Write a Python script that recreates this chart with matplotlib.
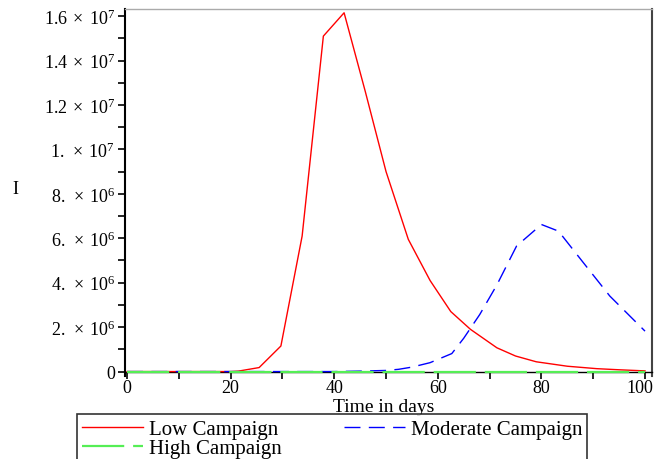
import matplotlib
matplotlib.use('Agg')
import matplotlib.pyplot as plt
from matplotlib.ticker import MultipleLocator, FixedLocator

plt.rcParams['font.family'] = ['Liberation Serif', 'DejaVu Serif']
plt.rcParams['mathtext.fontset'] = 'custom'
plt.rcParams['mathtext.rm'] = 'Liberation Serif'
plt.rcParams['mathtext.it'] = 'Liberation Serif:italic'

# infected people (values in units of 1e6)
low_days = [0, 20, 21.5, 25.5, 29.7, 33.8, 37.9, 41.9, 46, 50, 54.3, 58.5,
            62.5, 66.3, 71.4, 75, 79, 85, 90.7, 95, 100]
low_vals = [0, 0, 0.02, 0.18, 1.15, 6.1, 15.1, 16.15, 12.6, 9.0, 5.95, 4.1,
            2.7, 1.9, 1.07, 0.7, 0.44, 0.24, 0.13, 0.08, 0.03]

mod_days = [0, 40, 45, 50, 52.4, 55, 58.5, 62.7, 65, 68.1, 71.4, 75.2, 80,
            83.3, 88.1, 93.2, 100]
mod_vals = [0, 0, 0.02, 0.05, 0.1, 0.2, 0.4, 0.81, 1.5, 2.57, 3.9, 5.65, 6.62,
            6.32, 4.9, 3.4, 1.82]

high_days = [0, 25, 50, 75, 100]
high_vals = [0, 0, 0, 0, 0]

xtick_vals = [0, 20, 40, 60, 80, 100]
ytick_vals = [0, 2e6, 4e6, 6e6, 8e6, 1e7, 1.2e7, 1.4e7, 1.6e7]
ytick_labels = ['0', r'$2.\;\times\;10^{6}$', r'$4.\;\times\;10^{6}$',
                r'$6.\;\times\;10^{6}$', r'$8.\;\times\;10^{6}$',
                r'$1.\;\times\;10^{7}$', r'$1.2\;\times\;10^{7}$',
                r'$1.4\;\times\;10^{7}$', r'$1.6\;\times\;10^{7}$']

fig = plt.figure(figsize=(6.55, 4.6), dpi=100)
ax = fig.add_axes([125/655, 1 - 377/460, (652 - 125)/655, (377 - 10)/460])

l_low, = ax.plot(low_days, [v * 1e6 for v in low_vals], color='#ff0000',
                 lw=1.0, label='Low Campaign', zorder=3)
l_mod, = ax.plot(mod_days, [v * 1e6 for v in mod_vals], color='#0000ff',
                 lw=1.0, dashes=(11.5, 6), label='Moderate Campaign', zorder=3)
l_high, = ax.plot(high_days, high_vals, color='#55ee55', lw=1.6,
                  dashes=(19, 4), label='High Campaign', zorder=4)

ax.set_xlim(-0.4, 101.35)
ax.set_ylim(-0.2e6, 1.632e7)

# last x label sits against the figure edge, drawn separately a bit to the left
ax.xaxis.set_major_locator(FixedLocator(xtick_vals))
ax.set_xticklabels([str(v) for v in xtick_vals[:-1]] + [''])
ax.annotate(str(xtick_vals[-1]), xy=(xtick_vals[-1], 0), xycoords='data',
            xytext=(-4, -5), textcoords='offset points', ha='center',
            va='top', fontsize=13, annotation_clip=False)
ax.xaxis.set_minor_locator(MultipleLocator(10))
ax.yaxis.set_major_locator(FixedLocator(ytick_vals))
ax.set_yticklabels(ytick_labels)
ax.yaxis.set_minor_locator(MultipleLocator(1e6))
ax.tick_params(which='both', direction='out', length=5, width=1.2,
               labelsize=13, color='black')
ax.tick_params(axis='x', pad=0)
ax.tick_params(axis='y', pad=2)

ax.spines['left'].set_linewidth(1.5)
ax.spines['bottom'].set_position(('data', 0))
ax.spines['bottom'].set_linewidth(1.0)
ax.spines['top'].set_color('#aaaaaa')
ax.spines['top'].set_linewidth(1.0)
ax.spines['right'].set_color('#444444')
ax.spines['right'].set_linewidth(1.5)

ax.set_xlabel('Time in days', fontsize=14)
ax.xaxis.set_label_coords(0.49, -0.06)
ax.set_ylabel('I', fontsize=13, rotation=0, va='center', ha='center')
ax.yaxis.set_label_coords(-0.208, 0.51)

leg = fig.legend(handles=[l_low, l_high, l_mod], loc='upper left',
                 bbox_to_anchor=(77/655, 1 - 415/460), ncol=2,
                 fontsize=15, frameon=True, fancybox=False, handlelength=2.9,
                 borderpad=0.25, labelspacing=0.0, columnspacing=3.0,
                 handletextpad=0.3, borderaxespad=0)
leg.get_frame().set_edgecolor('black')
leg.get_frame().set_linewidth(1.2)

fig.savefig('out.png', dpi=100)
